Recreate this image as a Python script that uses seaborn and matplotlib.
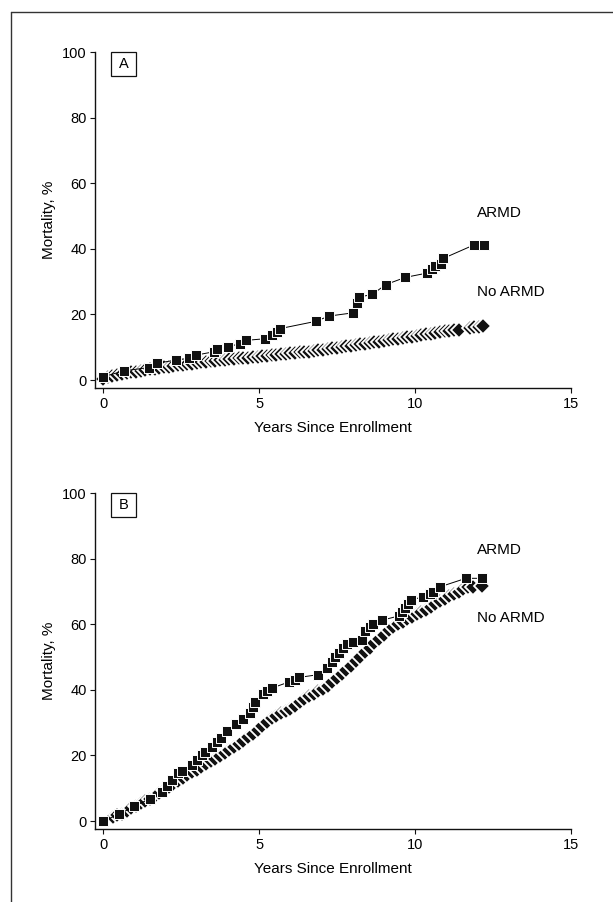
import matplotlib
matplotlib.use("Agg")
import matplotlib.pyplot as plt
from matplotlib.lines import Line2D
from matplotlib.patches import Rectangle
import seaborn as sns

sns.set_style("ticks")
plt.rcParams['font.family'] = ['Liberation Sans', 'DejaVu Sans']
plt.rcParams['text.color'] = 'black'
plt.rcParams['axes.labelcolor'] = 'black'
plt.rcParams['xtick.color'] = 'black'
plt.rcParams['ytick.color'] = 'black'

# Panel A - ARMD (squares)
a_armd_years = [0.0, 0.67, 1.46, 1.72, 2.34, 2.74, 2.98, 3.54, 3.66, 4.0, 4.38, 4.59,
                5.2, 5.42, 5.59, 5.68, 6.82, 7.24, 8.02, 8.15, 8.21, 8.63, 9.06, 9.69,
                10.38, 10.54, 10.63, 10.82, 10.91, 11.89, 12.21]
a_armd_mort = [1.0, 2.8, 3.8, 5.1, 6.1, 6.6, 7.6, 8.6, 9.6, 10.1, 11.1, 12.1,
               12.6, 13.8, 14.6, 15.7, 17.9, 19.5, 20.5, 23.4, 25.3, 26.1, 29.1, 31.3,
               32.6, 33.9, 34.9, 35.4, 37.1, 41.2, 41.2]

# Panel A - No ARMD (diamonds)
a_no_years = [0.0, 0.15, 0.3, 0.45, 0.6, 0.75, 0.9, 1.05, 1.2, 1.35, 1.5, 1.65, 1.8, 1.95,
              2.1, 2.25, 2.4, 2.55, 2.7, 2.85, 3.0, 3.15, 3.3, 3.45, 3.6, 3.75, 3.9, 4.05,
              4.2, 4.35, 4.5, 4.65, 4.8, 4.95, 5.1, 5.25, 5.4, 5.55, 5.7, 5.85, 6.0, 6.15,
              6.3, 6.45, 6.6, 6.75, 6.9, 7.05, 7.2, 7.35, 7.5, 7.65, 7.8, 7.95, 8.1, 8.25,
              8.4, 8.55, 8.7, 8.85, 9.0, 9.15, 9.3, 9.45, 9.6, 9.75, 9.9, 10.05, 10.2, 10.35,
              10.5, 10.65, 10.8, 10.95, 11.1, 11.25, 11.4, 11.76, 11.9, 12.05, 12.19]
a_no_mort = [0.3, 0.9, 1.3, 1.6, 1.9, 2.1, 2.3, 2.6, 2.8, 3.0, 3.3, 3.5, 3.7, 3.9,
             4.1, 4.3, 4.5, 4.6, 4.8, 5.0, 5.2, 5.4, 5.6, 5.7, 5.9, 6.0, 6.1, 6.3,
             6.4, 6.6, 6.7, 6.8, 7.0, 7.1, 7.3, 7.4, 7.5, 7.7, 7.8, 8.0, 8.1, 8.3,
             8.4, 8.5, 8.7, 8.9, 9.1, 9.3, 9.5, 9.7, 9.9, 10.1, 10.3, 10.5, 10.7, 10.9,
             11.1, 11.3, 11.5, 11.7, 12.0, 12.2, 12.4, 12.6, 12.8, 13.0, 13.2, 13.5, 13.7, 13.9,
             14.1, 14.3, 14.6, 14.8, 15.0, 15.2, 15.4, 15.8, 16.1, 16.3, 16.5]

# Panel B - ARMD (squares)
b_armd_years = [0.0, 0.5, 1.0, 1.5, 1.9, 2.05, 2.2, 2.41, 2.52, 2.84, 3.0, 3.17, 3.28,
                3.48, 3.64, 3.77, 3.96, 4.26, 4.5, 4.71, 4.82, 4.87, 5.12, 5.24, 5.43,
                5.96, 6.15, 6.29, 6.88, 7.19, 7.33, 7.44, 7.55, 7.69, 7.82, 8.02, 8.29,
                8.38, 8.54, 8.65, 8.93, 9.47, 9.58, 9.68, 9.79, 9.87, 10.24, 10.48, 10.59,
                10.8, 11.63, 12.14]
b_armd_mort = [0.0, 2.0, 4.5, 6.8, 9.0, 10.6, 12.4, 14.5, 15.3, 17.0, 18.5, 20.0, 21.0,
               22.6, 24.1, 25.4, 27.4, 29.6, 31.0, 32.9, 34.7, 36.2, 38.7, 39.7, 40.6,
               42.4, 43.1, 43.8, 44.6, 46.6, 48.4, 49.9, 51.1, 52.7, 53.9, 54.7, 55.2,
               58.0, 59.2, 60.2, 61.2, 62.5, 63.8, 65.0, 66.2, 67.3, 68.4, 69.1, 69.9,
               71.4, 74.0, 74.0]

# Panel B - No ARMD (diamonds)
b_no_years = [0.31, 0.45, 0.6, 0.75, 0.9, 1.05, 1.2, 1.35, 1.5, 1.65, 1.8, 1.95, 2.1,
              2.25, 2.4, 2.55, 2.7, 2.85, 3.0, 3.15, 3.3, 3.45, 3.6, 3.75, 3.9, 4.05,
              4.2, 4.35, 4.5, 4.65, 4.8, 4.95, 5.1, 5.25, 5.4, 5.55, 5.7, 5.85, 6.0,
              6.15, 6.3, 6.45, 6.6, 6.75, 6.9, 7.05, 7.2, 7.35, 7.5, 7.65, 7.8, 7.95,
              8.1, 8.25, 8.4, 8.55, 8.7, 8.85, 9.0, 9.15, 9.3, 9.45, 9.6, 9.75, 9.9,
              10.05, 10.2, 10.35, 10.5, 10.65, 10.8, 10.95, 11.1, 11.25, 11.4, 11.55,
              11.7, 11.85, 12.14]
b_no_mort = [1.2, 1.7, 2.2, 3.0, 3.9, 4.6, 5.4, 6.1, 6.8, 7.5, 8.4, 9.4, 10.4,
             11.4, 12.3, 13.1, 14.0, 14.8, 15.7, 16.5, 17.4, 18.2, 19.0, 19.9, 20.7, 21.6,
             22.5, 23.4, 24.4, 25.5, 26.6, 27.7, 28.9, 30.1, 31.3, 32.1, 32.9, 33.6, 34.3,
             35.2, 36.2, 37.2, 38.1, 38.8, 39.6, 40.3, 41.3, 42.4, 43.5, 44.7, 46.0, 47.4,
             48.7, 50.1, 51.5, 52.9, 54.3, 55.6, 56.8, 58.1, 59.1, 60.0, 60.8, 61.6, 62.3,
             63.0, 63.7, 64.4, 65.3, 66.2, 67.1, 67.8, 68.5, 69.2, 69.9, 70.6,
             71.2, 71.5, 71.8]

panels = [
    ("A", a_armd_years, a_armd_mort, a_no_years, a_no_mort, 50.9, 26.9),
    ("B", b_armd_years, b_armd_mort, b_no_years, b_no_mort, 82.7, 61.9),
]

fig = plt.figure(figsize=(6.13, 9.02), dpi=100)
axes = [fig.add_axes([0.155, 0.5698, 0.7765, 0.3725]),
        fig.add_axes([0.155, 0.0809, 0.7765, 0.3725])]

for ax, (tag, ay, am, ny, nm, lab_armd, lab_no) in zip(axes, panels):
    # no ARMD: dense black diamonds with white edges
    sns.lineplot(x=ny, y=nm, ax=ax, estimator=None, sort=False, color="black",
                 linewidth=0.6, marker="D", markersize=8.0, markerfacecolor="#111111",
                 markeredgecolor="white", markeredgewidth=1.3)
    # ARMD: squares joined by a thin line
    sns.lineplot(x=ay, y=am, ax=ax, estimator=None, sort=False, color="black",
                 linewidth=0.7, marker="s", markersize=7.0, markerfacecolor="#111111",
                 markeredgecolor="white", markeredgewidth=0.7)

    ax.set_xlim(-0.26, 15)
    ax.set_ylim(-2.44, 100)
    ax.set_xticks([0, 5, 10, 15])
    ax.set_yticks([0, 20, 40, 60, 80, 100])
    sns.despine(ax=ax)
    for s in ["left", "bottom"]:
        ax.spines[s].set_linewidth(1.0)
        ax.spines[s].set_color("#111111")
    ax.tick_params(direction="out", length=3.6, width=0.8, labelsize=10.5, pad=2.5,
                   color="#111111")
    ax.set_xlabel("Years Since Enrollment", fontsize=11)
    ax.set_ylabel("Mortality, %", fontsize=11)
    ax.xaxis.set_label_coords(0.5, -0.098)
    ax.yaxis.set_label_coords(-0.082, 0.5)

    ax.text(12.0, lab_armd, "ARMD", fontsize=11, va="center", ha="left")
    ax.text(12.0, lab_no, "No ARMD", fontsize=11, va="center", ha="left")

    ax.add_patch(Rectangle((0.034, 0.93), 0.052, 0.07, transform=ax.transAxes,
                           fill=False, edgecolor="#111111", linewidth=0.9, clip_on=False))
    ax.text(0.06, 0.963, tag, transform=ax.transAxes, fontsize=10.5,
            ha="center", va="center")

# outer frame lines (top and left)
fig.add_artist(Line2D([0.0179, 1.0], [0.9867, 0.9867], transform=fig.transFigure,
                      color="#333333", linewidth=1.0))
fig.add_artist(Line2D([0.0179, 0.0179], [0.0, 0.9867], transform=fig.transFigure,
                      color="#333333", linewidth=1.0))

fig.savefig("out.png", dpi=100)
